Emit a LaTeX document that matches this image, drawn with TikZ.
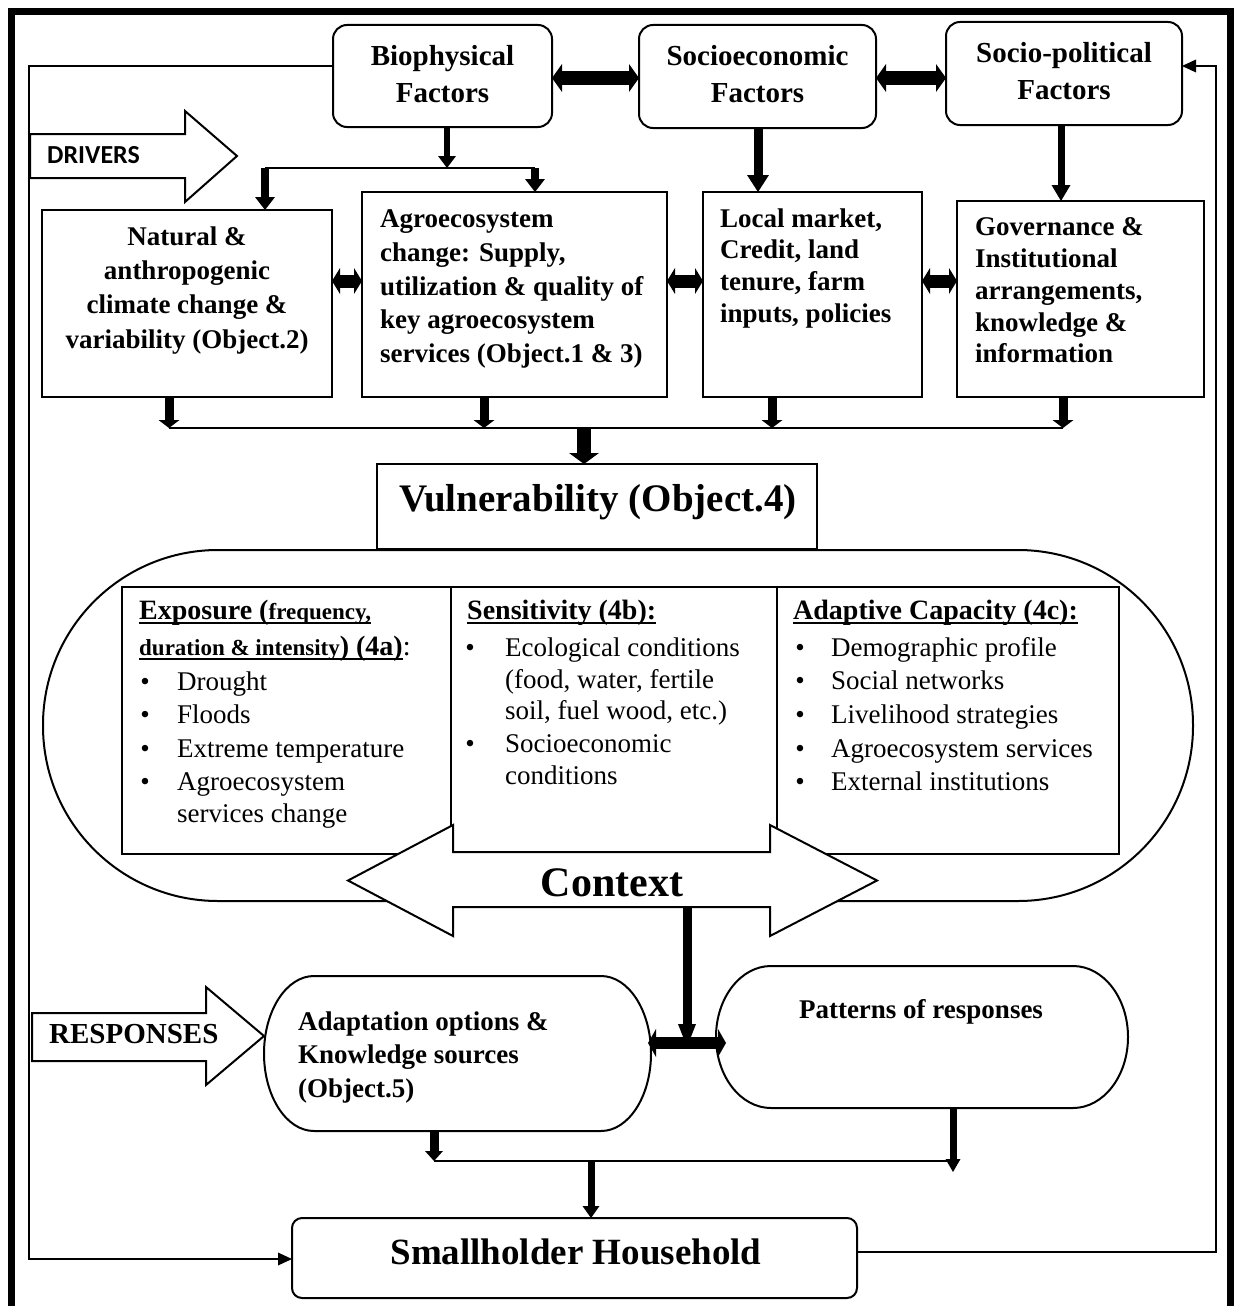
\documentclass[tikz,border=0pt]{standalone}
\usepackage{fontspec}
\setmainfont{Liberation Serif}
\newfontfamily\carlito{Carlito}
\usetikzlibrary{arrows.meta}
\newcommand{\fsz}[2]{\fontsize{#1}{#2}\selectfont}
\newsavebox\ulnbox
\newcommand{\uln}[1]{\sbox\ulnbox{#1}\rlap{\rule[-4.6pt]{\wd\ulnbox}{1.6pt}}\usebox\ulnbox}
\newcommand{\dpfix}{\rule[-5pt]{0pt}{0pt}}

\tikzset{
  outline/.style={line width=2pt},
  plainbox/.style={draw, line width=2pt, inner sep=0pt, outer sep=0pt},
  roundbox/.style={plainbox, rounded corners=14pt},
  ghost/.style={inner sep=0pt, outer sep=0pt},
  topfont/.style={font=\fsz{29}{37}\bfseries, align=center},
  midtxt/.style={font=\fsz{27}{27}\bfseries, inner sep=0pt, anchor=base west},
  midtxtc/.style={font=\fsz{27}{27}\bfseries, inner sep=0pt, anchor=base},
  itemtxt/.style={font=\fsz{27}{27}, inner sep=0pt, anchor=base west},
  bul/.style={font=\fsz{27}{27}, inner sep=0pt, anchor=base},
  headtxt/.style={inner sep=0pt, anchor=base west},
  thinline/.style={line width=2.5pt},
  shaft/.style={line width=#1},
  fbarrow/.style={line width=2pt, line join=miter, -{Triangle[length=14pt,width=13pt,line width=0pt]}},
  tarrow/.style n args={3}{line width=#1, -{Triangle[length=#2,width=#3,line width=0pt]}},
  dbarrow/.style n args={3}{line width=#1, {Triangle[length=#2,width=#3,line width=0pt]}-{Triangle[length=#2,width=#3,line width=0pt]}},
  blockarrow/.style={line width=2pt, line join=miter, fill=white},
}

\begin{document}
\begin{tikzpicture}[x=1pt,y=-1pt]
\useasboundingbox (0,0) rectangle (1237,1306);

% outer frame
\draw[line width=7pt, line join=miter] (11.5,1320) -- (11.5,11.5) -- (1230.5,11.5) -- (1230.5,1320);

% top factor boxes
\node[roundbox, topfont, minimum width=219pt, minimum height=102pt] (bio) at (442.5,76) {Biophysical\\Factors\dpfix};
\node[roundbox, topfont, minimum width=237pt, minimum height=103pt] (soc) at (757.5,76.5) {Socioeconomic\\Factors\dpfix};
\node[roundbox, topfont, minimum width=236pt, minimum height=103pt] (spol) at (1064,73.5) {Socio-political\\Factors\dpfix};

% double arrows between top boxes
\coordinate (ty) at (0,78);
\draw[dbarrow={13pt}{10pt}{28pt}] (bio.east |- ty) -- (soc.west |- ty);
\draw[dbarrow={13pt}{10pt}{28pt}] (soc.east |- ty) -- (spol.west |- ty);

% middle boxes
\node[plainbox, minimum width=290pt, minimum height=187pt] (nat) at (187,303.5) {};
\node[plainbox, minimum width=305pt, minimum height=205pt] (agro) at (514.5,294.5) {};
\node[plainbox, minimum width=219pt, minimum height=205pt] (loc) at (812.5,294.5) {};
\node[plainbox, minimum width=247pt, minimum height=196pt] (gov) at (1080.5,299) {};

% biophysical split
\coordinate (bsplit) at (447,168);
\coordinate (bl) at (265,168);
\coordinate (br) at (535,168);
\draw[tarrow={6pt}{12pt}{18pt}] (bio.south -| bsplit) -- (bsplit);
\draw[thinline] (bl) -- (br);
\draw[tarrow={8pt}{13pt}{20pt}] (bl) -- (nat.north -| bl);
\draw[tarrow={8pt}{13pt}{20pt}] (br) -- (agro.north -| br);

% socioeconomic and socio-political down
\coordinate (sx) at (758,0);
\coordinate (px) at (1061,0);
\draw[tarrow={9pt}{17pt}{22pt}] (soc.south -| sx) -- (loc.north -| sx);
\draw[tarrow={7pt}{16pt}{19pt}] (spol.south -| px) -- (gov.north -| px);

% middle double arrows (solid shaft underneath the tips)
\coordinate (my) at (0,281);
\draw[shaft=13pt] ([xshift=6pt]nat.east |- my) -- ([xshift=-6pt]agro.west |- my);
\draw[shaft=13pt] ([xshift=6pt]agro.east |- my) -- ([xshift=-6pt]loc.west |- my);
\draw[shaft=13pt] ([xshift=6pt]loc.east |- my) -- ([xshift=-6pt]gov.west |- my);
\draw[dbarrow={13pt}{8pt}{26pt}] (nat.east |- my) -- (agro.west |- my);
\draw[dbarrow={13pt}{8pt}{26pt}] (agro.east |- my) -- (loc.west |- my);
\draw[dbarrow={13pt}{8pt}{26pt}] (loc.east |- my) -- (gov.west |- my);

% middle texts
\node[midtxtc] (n1) at (187,245) {Natural \&};
\node[midtxtc] (n2) at (187,279) {anthropogenic};
\node[midtxtc] (n3) at (187,313) {climate change \&};
\node[midtxtc] (n4) at (187,348) {variability (Object.2)};
\node[midtxt] (a1) at (380,227) {Agroecosystem};
\node[midtxt] (a2) at (380,261) {change: Supply,};
\node[midtxt] (a3) at (380,295) {utilization \& quality of};
\node[midtxt] (a4) at (380,328) {key agroecosystem};
\node[midtxt] (a5) at (380,362) {services (Object.1 \& 3)};
\node[midtxt] (l1) at (720,227) {Local market,};
\node[midtxt] (l2) at (720,258) {Credit, land};
\node[midtxt] (l3) at (720,290) {tenure, farm};
\node[midtxt] (l4) at (720,322) {inputs, policies};
\node[midtxt] (g1) at (975,235) {Governance \&};
\node[midtxt] (g2) at (975,267) {Institutional};
\node[midtxt] (g3) at (975,299) {arrangements,};
\node[midtxt] (g4) at (975,331) {knowledge \&};
\node[midtxt] (g5) at (975,362) {information};

% collector
\coordinate (c1) at (169,428);
\coordinate (c2) at (484,428);
\coordinate (c3) at (772,428);
\coordinate (c4) at (1063,428);
\coordinate (cv) at (584,428);
\draw[thinline] (c1) -- (c4);
\draw[tarrow={9pt}{8pt}{21pt}] (nat.south -| c1) -- (c1);
\draw[tarrow={9pt}{8pt}{21pt}] (agro.south -| c2) -- (c2);
\draw[tarrow={9pt}{8pt}{21pt}] (loc.south -| c3) -- (c3);
\draw[tarrow={9pt}{8pt}{21pt}] (gov.south -| c4) -- (c4);

% vulnerability context stadium
\node[draw, line width=2pt, rounded corners=175pt, minimum width=1150pt, minimum height=351pt, inner sep=0pt] (stad) at (618,725.5) {};

% vulnerability box
\node[plainbox, fill=white, minimum width=440pt, minimum height=85pt] (vul) at (597,506.5) {};
\node[inner sep=0pt, anchor=base, font=\fsz{39}{39}\bfseries] (vult) at (598,511) {Vulnerability (Object.4)};
\draw[tarrow={14pt}{11pt}{30pt}] (cv) -- (vul.north -| cv);

% three inner boxes
\node[plainbox, minimum width=329pt, minimum height=267pt] (exp) at (286.5,720.5) {};
\node[plainbox, minimum width=326pt, minimum height=265pt] (sen) at (614,719.5) {};
\node[plainbox, minimum width=342pt, minimum height=267pt] (ada) at (948,720.5) {};

% exposure
\node[headtxt] (eh1) at (139,619) {{\fsz{28}{28}\bfseries\uln{Exposure (}}{\fsz{23}{23}\bfseries\uln{frequency,}}};
\node[headtxt] (eh2) at (139,655) {{\fsz{23}{23}\bfseries\uln{duration \& intensity}}{\fsz{28}{28}\bfseries\uln{) (4a)}}{\fsz{28}{28}:}};
\node[bul] (eb1) at (145,690) {•};
\node[bul] (eb2) at (145,723) {•};
\node[bul] (eb3) at (145,757) {•};
\node[bul] (eb4) at (145,790) {•};
\node[itemtxt] (ei1) at (177,690) {Drought};
\node[itemtxt] (ei2) at (177,723) {Floods};
\node[itemtxt] (ei3) at (177,757) {Extreme temperature};
\node[itemtxt] (ei4) at (177,790) {Agroecosystem};
\node[itemtxt] (ei5) at (177,822) {services change};

% sensitivity
\node[headtxt] (sh1) at (467,619) {{\fsz{28}{28}\bfseries\uln{Sensitivity (4b):}}};
\node[bul] (sb1) at (470,656) {•};
\node[bul] (sb2) at (470,752) {•};
\node[itemtxt] (si1) at (505,656) {Ecological conditions};
\node[itemtxt] (si2) at (505,688) {(food, water, fertile};
\node[itemtxt] (si3) at (505,719) {soil, fuel wood, etc.)};
\node[itemtxt] (si4) at (505,752) {Socioeconomic};
\node[itemtxt] (si5) at (505,784) {conditions};

% adaptive capacity
\node[headtxt] (ah1) at (793,619) {{\fsz{28}{28}\bfseries\uln{Adaptive Capacity (4c):}}};
\node[bul] (ab1) at (800,656) {•};
\node[bul] (ab2) at (800,689) {•};
\node[bul] (ab3) at (800,723) {•};
\node[bul] (ab4) at (800,757) {•};
\node[bul] (ab5) at (800,790) {•};
\node[itemtxt] (ai1) at (831,656) {Demographic profile};
\node[itemtxt] (ai2) at (831,689) {Social networks};
\node[itemtxt] (ai3) at (831,723) {Livelihood strategies};
\node[itemtxt] (ai4) at (831,757) {Agroecosystem services};
\node[itemtxt] (ai5) at (831,790) {External institutions};

% context double block arrow
\draw[blockarrow] (348,880.5) -- (453,825) -- (453,852) -- (770,852) -- (770,825) -- (877,880.5) -- (770,936) -- (770,907) -- (453,907) -- (453,936) -- cycle;
\node[inner sep=0pt, anchor=base, font=\fsz{42}{42}\bfseries] (ctxt) at (612,896) {Context};

% response stadiums
\node[ghost, minimum width=387pt, minimum height=155pt] (adapt) at (457.5,1053.5) {};
\draw[outline] ([xshift=50pt]adapt.north west) -- ([xshift=-50pt]adapt.north east)
  arc[start angle=90, end angle=-90, x radius=50pt, y radius=77.5pt]
  -- ([xshift=50pt]adapt.south west)
  arc[start angle=-90, end angle=-270, x radius=50pt, y radius=77.5pt] -- cycle;
\node[ghost, minimum width=412pt, minimum height=142pt] (pat) at (922,1037) {};
\draw[outline] ([xshift=55pt]pat.north west) -- ([xshift=-55pt]pat.north east)
  arc[start angle=90, end angle=-90, x radius=55pt, y radius=71pt]
  -- ([xshift=55pt]pat.south west)
  arc[start angle=-90, end angle=-270, x radius=55pt, y radius=71pt] -- cycle;
\node[midtxt] (ad1) at (298,1030) {Adaptation options \&};
\node[midtxt] (ad2) at (298,1063) {Knowledge sources};
\node[midtxt] (ad3) at (298,1097) {(Object.5)};
\node[midtxtc] (pt1) at (921,1018) {Patterns of responses};

% context down arrow and junction arrow
\coordinate (ctxb) at (687,907);
\coordinate (jn) at (687,1047);
\coordinate (ja) at (648,1043);
\coordinate (jb) at (726,1043);
\draw[dbarrow={12pt}{8pt}{28pt}] (ja) -- (jb);
\draw[tarrow={9pt}{23pt}{18pt}] (ctxb) -- (jn);

% smallholder
\node[plainbox, rounded corners=10pt, minimum width=565pt, minimum height=80pt] (sh) at (574.5,1258) {};
\node[inner sep=0pt, anchor=base, font=\fsz{37}{37}\bfseries] (sht) at (576,1264) {Smallholder Household};

% bottom collector
\coordinate (b1) at (434,1161);
\coordinate (b2) at (953,1161);
\coordinate (b2t) at (953,1172);
\coordinate (b3) at (591,1161);
\draw[thinline] (b1) -- (b2);
\draw[tarrow={9pt}{10pt}{18pt}] (adapt.south -| b1) -- (b1);
\draw[tarrow={7pt}{13pt}{15pt}] (pat.south -| b2) -- (b2t);
\draw[tarrow={7pt}{12pt}{17pt}] (b3) -- (sh.north -| b3);

% feedback loops
\coordinate (fl1) at (29,66);
\coordinate (fl2) at (29,1259);
\draw[fbarrow] (bio.west |- fl1) -- (fl1) -- (fl2) -- (sh.west |- fl2);
\coordinate (fr1) at (1216,1252);
\coordinate (fr2) at (1216,66);
\draw[fbarrow] (sh.east |- fr1) -- (fr1) -- (fr2) -- (spol.east |- fr2);

% DRIVERS block arrow
\draw[blockarrow] (30,134) -- (185,134) -- (185,111) -- (237,156) -- (185,202) -- (185,178) -- (30,178) -- cycle;
\node[inner sep=0pt, anchor=base west, font=\carlito\fsz{26}{26}\bfseries] (drv) at (47,163) {DRIVERS};

% RESPONSES block arrow
\draw[blockarrow] (32,1013) -- (206,1013) -- (206,987) -- (264,1036) -- (206,1085) -- (206,1061) -- (32,1061) -- cycle;
\node[inner sep=0pt, anchor=base west, font=\fsz{29}{29}\bfseries] (rsp) at (49,1043) {RESPONSES};
\end{tikzpicture}
\end{document}
